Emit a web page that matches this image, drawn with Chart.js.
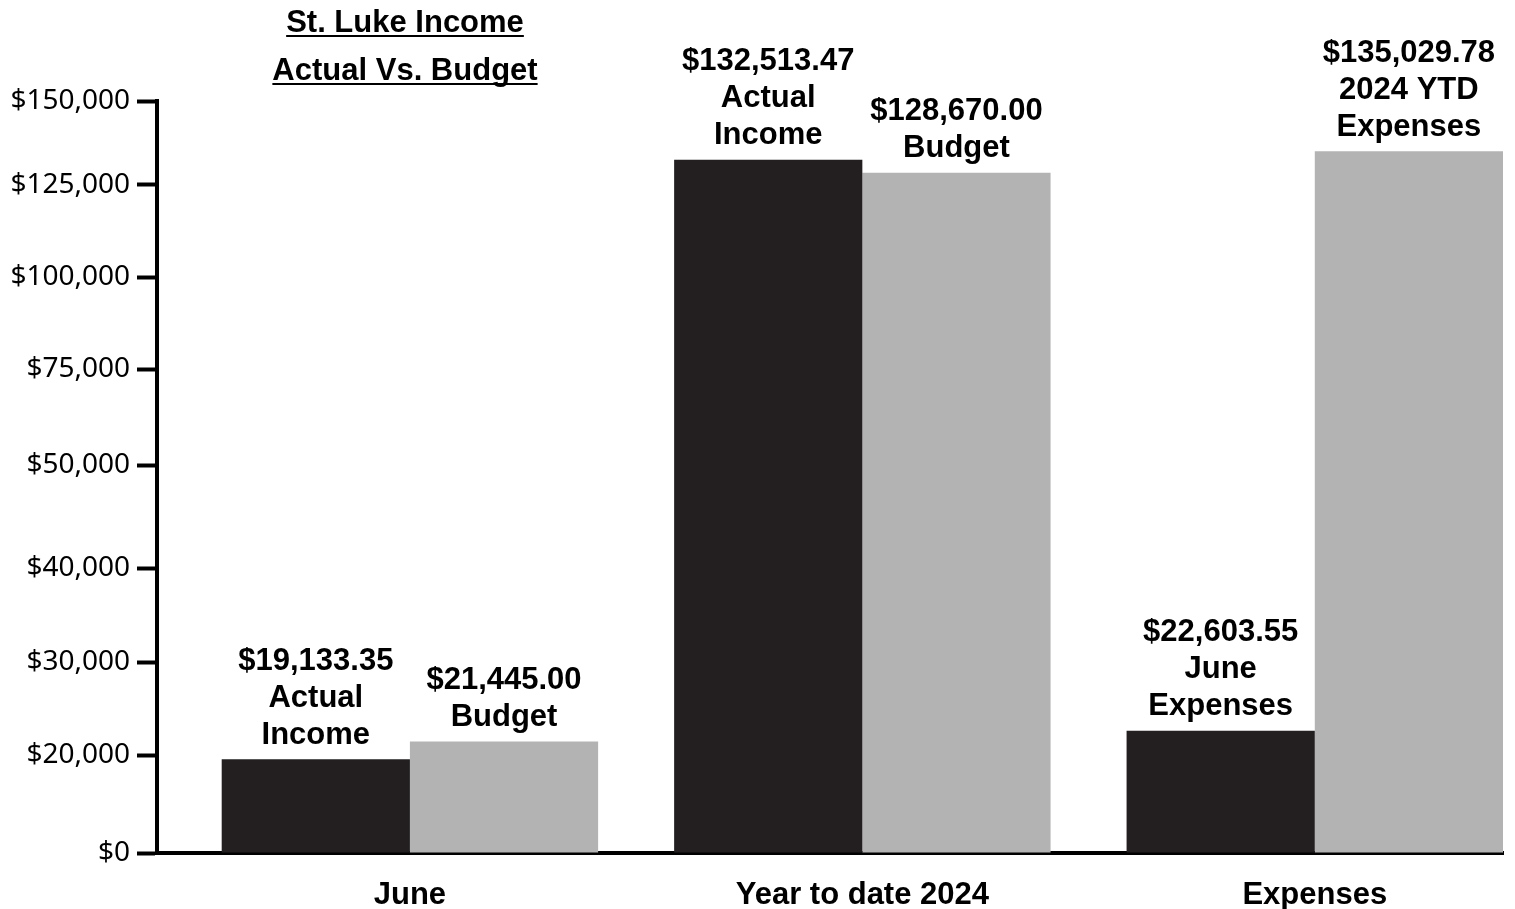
<!DOCTYPE html>
<html>
<head>
<meta charset="utf-8">
<script src="https://cdn.jsdelivr.net/npm/chart.js@4"></script>
<style>
  html, body { margin: 0; padding: 0; background: #fff; }
  #wrap { width: 1515px; height: 909px; }
</style>
</head>
<body>
<div id="wrap"><canvas id="chart"></canvas></div>
<script>
// ================================
// DATA
// ================================
const categories = ["June", "Year to date 2024", "Expenses"];
const actualValues = [19133.35, 132513.47, 22603.55];
const budgetValues = [21445.00, 128670.00, 135029.78];
const actualCaptions = [["Actual", "Income"], ["Actual", "Income"], ["June", "Expenses"]];
const budgetCaptions = [["Budget"], ["Budget"], ["2024 YTD", "Expenses"]];
const yTicks = [0, 20000, 30000, 40000, 50000, 75000, 100000, 125000, 150000];
const titleLines = ["St. Luke Income", "Actual Vs. Budget"];

// ================================
// PIECEWISE Y SCALE (each tick step gets its own share of the axis)
// ================================
class PiecewiseScale extends Chart.LinearScale {
    buildTicks() {
        return yTicks.map(v => ({ value: v }));
    }
    _stops() {
        const w = this.options.stepWeights || yTicks.slice(1).map(() => 1);
        const total = w.reduce((a, b) => a + b, 0);
        const stops = [0];
        w.forEach(g => stops.push(stops[stops.length - 1] + g / total));
        return stops;
    }
    getPixelForValue(value) {
        const n = yTicks.length - 1;
        const stops = this._stops();
        let dec = 0;
        if (value >= yTicks[n]) dec = 1;
        else if (value > yTicks[0]) {
            for (let i = 0; i < n; i++) {
                if (value <= yTicks[i + 1]) {
                    const f = (value - yTicks[i]) / (yTicks[i + 1] - yTicks[i]);
                    dec = stops[i] + f * (stops[i + 1] - stops[i]);
                    break;
                }
            }
        }
        return this.getPixelForDecimal(dec);
    }
    getValueForPixel(pixel) {
        const stops = this._stops();
        const dec = this.getDecimalForPixel(pixel);
        for (let i = 0; i < stops.length - 1; i++) {
            if (dec <= stops[i + 1]) {
                const f = (dec - stops[i]) / (stops[i + 1] - stops[i]);
                return yTicks[i] + f * (yTicks[i + 1] - yTicks[i]);
            }
        }
        return yTicks[yTicks.length - 1];
    }
}
PiecewiseScale.id = "piecewise";
PiecewiseScale.defaults = Chart.LinearScale.defaults;
Chart.register(PiecewiseScale);

const money = v => "$" + v.toLocaleString("en-US", { minimumFractionDigits: 2, maximumFractionDigits: 2 });
const BOLD = "'Liberation Sans', Arial, sans-serif";

// ================================
// LABEL PLUGINS
// ================================
const barLabels = {
    id: "barLabels",
    afterDatasetsDraw(chart) {
        const ctx = chart.ctx;
        ctx.save();
        ctx.font = "bold 31px " + BOLD;
        ctx.fillStyle = "#000";
        ctx.textAlign = "center";
        ctx.textBaseline = "middle";
        chart.data.datasets.forEach((ds, di) => {
            const meta = chart.getDatasetMeta(di);
            meta.data.forEach((bar, i) => {
                const lines = [money(ds.values[i])].concat(ds.captions[i]);
                let y = bar.y - 24 - (lines.length - 1) * 37;
                lines.forEach(line => {
                    ctx.fillText(line, bar.x, y);
                    y += 37;
                });
            });
        });
        ctx.restore();
    }
};

const underlinedTitle = {
    id: "underlinedTitle",
    afterDraw(chart) {
        const ctx = chart.ctx;
        ctx.save();
        ctx.font = "bold 31px " + BOLD;
        ctx.fillStyle = "#000";
        ctx.strokeStyle = "#000";
        ctx.lineWidth = 2;
        ctx.textAlign = "center";
        ctx.textBaseline = "alphabetic";
        const cx = 405;
        titleLines.forEach((line, i) => {
            const base = 32 + i * 48;
            ctx.fillText(line, cx, base);
            const w = ctx.measureText(line).width;
            ctx.beginPath();
            ctx.moveTo(cx - w / 2, base + 4);
            ctx.lineTo(cx + w / 2, base + 4);
            ctx.stroke();
        });
        ctx.restore();
    }
};

// ================================
// CHART
// ================================
new Chart(document.getElementById("chart").getContext("2d"), {
    type: "bar",
    data: {
        datasets: [
            {
                label: "Actual",
                data: actualValues.map((v, i) => ({ x: i, y: v })),
                values: actualValues,
                captions: actualCaptions,
                backgroundColor: "#231f20",
                categoryPercentage: 0.832,
                barPercentage: 1.0
            },
            {
                label: "Budget",
                data: budgetValues.map((v, i) => ({ x: i, y: v })),
                values: budgetValues,
                captions: budgetCaptions,
                backgroundColor: "#b3b3b3",
                categoryPercentage: 0.832,
                barPercentage: 1.0
            }
        ]
    },
    options: {
        responsive: true,
        maintainAspectRatio: false,
        animation: false,
        layout: { padding: { top: 101, right: 12, left: 0, bottom: 0 } },
        plugins: {
            legend: { display: false },
            tooltip: { enabled: false }
        },
        scales: {
            x: {
                type: "linear",
                offset: false,
                min: -0.559,
                max: 2.416,
                grid: { display: false },
                border: { display: true, color: "#000", width: 4 },
                afterBuildTicks: s => { s.ticks = categories.map((c, i) => ({ value: i })); },
                afterFit: s => { s.height = 56; },
                ticks: {
                    autoSkip: false,
                    maxRotation: 0,
                    padding: 16,
                    color: "#000",
                    font: { family: BOLD, size: 31, weight: "bold" },
                    callback: v => categories[v]
                }
            },
            y: {
                type: "piecewise",
                min: 0,
                max: 150000,
                stepWeights: [98, 93, 94, 103, 96, 92, 92, 84],
                grid: {
                    display: true,
                    drawOnChartArea: false,
                    drawTicks: true,
                    tickLength: 20,
                    tickWidth: 4,
                    tickColor: "#000"
                },
                border: { display: true, color: "#000", width: 4 },
                afterFit: s => { s.width = 157; },
                ticks: {
                    padding: 7,
                    color: "#000",
                    font: { family: "'Noto Sans', sans-serif", size: 28 },
                    callback: v => "$" + v.toLocaleString("en-US")
                }
            }
        }
    },
    plugins: [barLabels, underlinedTitle]
});
</script>
</body>
</html>
